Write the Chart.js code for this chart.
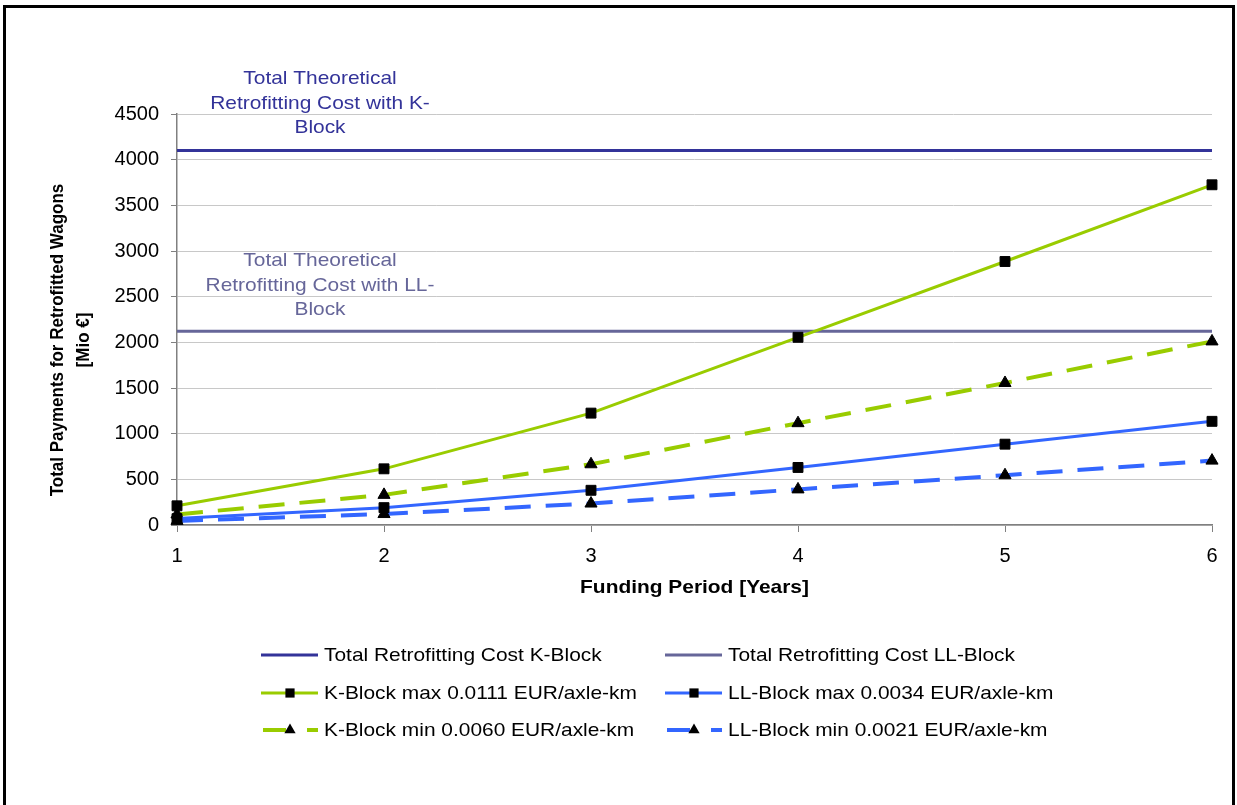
<!DOCTYPE html>
<html>
<head>
<meta charset="utf-8">
<script src="https://cdn.jsdelivr.net/npm/chart.js@4.4.1/dist/chart.umd.min.js"></script>
<style>
    body { margin: 0; background: #fff; }
    #wrap { position: relative; width: 1237px; height: 805px; overflow: hidden; }
    #frame { position: absolute; left: 3px; top: 5px; width: 1226px; height: 830px; border: 3px solid #000; pointer-events: none; }
    canvas { position: absolute; left: 0; top: 0; }
</style>
</head>
<body>
<div id="wrap">
    <canvas id="chart" width="1237" height="805"></canvas>
    <div id="frame"></div>
</div>
<script>
// Data
const years = [1, 2, 3, 4, 5, 6];
const kTotal = [4100, 4100, 4100, 4100, 4100, 4100];
const llTotal = [2120, 2120, 2120, 2120, 2120, 2120];
const kMax = [210, 615, 1225, 2055, 2885, 3725];
const kMin = [115, 330, 665, 1115, 1555, 2010];
const llMax = [70, 190, 380, 630, 885, 1135];
const llMin = [45, 120, 235, 390, 545, 705];
const yTicks = [0, 500, 1000, 1500, 2000, 2500, 3000, 3500, 4000, 4500];

const labels = {
    kTotal: 'Total Retrofitting Cost K-Block',
    llTotal: 'Total Retrofitting Cost LL-Block',
    kMax: 'K-Block max 0.0111 EUR/axle-km',
    llMax: 'LL-Block max 0.0034 EUR/axle-km',
    kMin: 'K-Block min 0.0060 EUR/axle-km',
    llMin: 'LL-Block min 0.0021 EUR/axle-km'
};

const DARK = '#333399';
const GREY = '#666699';
const GREEN = '#99CC00';
const BLUE = '#3366FF';
const DASH = [26, 15];
const FONT = '"Liberation Sans", Arial, sans-serif';
const STRETCH = 1.13; // the reference text is a bit wide

function pts(vals) {
    return years.map((x, i) => ({ x: x, y: vals[i] }));
}

function series(key, vals, color, opts) {
    return Object.assign({
        label: labels[key],
        data: pts(vals),
        borderColor: color,
        backgroundColor: '#000',
        borderWidth: 3,
        pointRadius: 0,
        pointBorderWidth: 1,
        pointBorderColor: '#000',
        pointBackgroundColor: '#000',
        tension: 0,
        fill: false,
        clip: false
    }, opts || {});
}

const datasets = [
    series('kTotal', kTotal, DARK, { order: 1 }),
    series('llTotal', llTotal, GREY, { order: 1 }),
    series('kMax', kMax, GREEN, { pointStyle: 'rect', pointRadius: 7 }),
    series('llMax', llMax, BLUE, { pointStyle: 'rect', pointRadius: 7 }),
    series('kMin', kMin, GREEN, { pointStyle: 'triangle', pointRadius: 7, borderDash: DASH, borderWidth: 4 }),
    series('llMin', llMin, BLUE, { pointStyle: 'triangle', pointRadius: 7, borderDash: DASH, borderWidth: 4 })
];

// Legend layout: two columns, three rows
const legendRows = [['kTotal', 'llTotal'], ['kMax', 'llMax'], ['kMin', 'llMin']];
const legendColX = [261, 665];
const legendRowY = [655, 693, 730];

function wideText(ctx, text, x, y, align) {
    ctx.save();
    ctx.translate(x, y);
    ctx.scale(STRETCH, 1);
    ctx.textAlign = align;
    ctx.fillText(text, 0, 0);
    ctx.restore();
}

const textPlugin = {
    id: 'textPlugin',
    afterDraw(chart) {
        const ctx = chart.ctx;
        const area = chart.chartArea;
        ctx.save();
        ctx.textBaseline = 'middle';

        // annotations above the cost lines
        ctx.font = '18.5px ' + FONT;
        ctx.fillStyle = DARK;
        ['Total Theoretical', 'Retrofitting Cost with K-', 'Block'].forEach((t, i) => wideText(ctx, t, 320, 79 + i * 24.5, 'center'));
        ctx.fillStyle = GREY;
        ['Total Theoretical', 'Retrofitting Cost with LL-', 'Block'].forEach((t, i) => wideText(ctx, t, 320, 261 + i * 24.5, 'center'));

        // axis titles
        ctx.fillStyle = '#000';
        ctx.font = 'bold 18.5px ' + FONT;
        wideText(ctx, 'Funding Period [Years]', (area.left + area.right) / 2, 588, 'center');
        ctx.font = 'bold 17px ' + FONT;
        ctx.save();
        ctx.translate(58, 340);
        ctx.rotate(-Math.PI / 2);
        ctx.scale(1, STRETCH);
        ctx.textAlign = 'center';
        ctx.fillText('Total Payments for Retrofitted Wagons', 0, 0);
        ctx.fillText('[Mio €]', 0, 23);
        ctx.restore();

        // legend
        ctx.font = '18.5px ' + FONT;
        legendRows.forEach((row, r) => {
            row.forEach((key, c) => {
                const ds = datasets.find(d => d.label === labels[key]);
                const x0 = legendColX[c];
                const x1 = x0 + 57;
                const y = legendRowY[r];
                const mid = x0 + 29;
                ctx.strokeStyle = ds.borderColor;
                ctx.lineWidth = ds.borderWidth;
                ctx.setLineDash([]);
                ctx.beginPath();
                if (ds.borderDash) {
                    ctx.moveTo(x0 + 2, y); ctx.lineTo(x0 + 25, y);
                    ctx.moveTo(x0 + 46, y); ctx.lineTo(x1, y);
                } else {
                    ctx.moveTo(x0, y); ctx.lineTo(x1, y);
                }
                ctx.stroke();
                if (ds.pointStyle) {
                    ctx.fillStyle = '#000';
                    ctx.strokeStyle = '#000';
                    ctx.lineWidth = 1;
                    Chart.helpers.drawPoint(ctx, { pointStyle: ds.pointStyle, radius: 6.5, rotation: 0 }, mid, y);
                }
                ctx.fillStyle = '#000';
                wideText(ctx, ds.label, x1 + 6, y + 1, 'left');
            });
        });
        ctx.restore();
    }
};

new Chart(document.getElementById('chart'), {
    type: 'line',
    data: { datasets },
    options: {
        responsive: false,
        animation: false,
        events: [],
        layout: { padding: { left: 0, top: 114, right: 25, bottom: 220 } },
        plugins: { legend: { display: false }, tooltip: { enabled: false } },
        scales: {
            x: {
                type: 'linear',
                min: 1,
                max: 6,
                afterFit: s => { s.height = 60; },
                afterBuildTicks: s => { s.ticks = years.map(v => ({ value: v })); },
                ticks: { color: '#000', font: { size: 20, family: FONT }, padding: 12, maxRotation: 0, callback: v => String(v) },
                grid: { drawOnChartArea: false, drawTicks: true, tickLength: 7, tickColor: '#808080', lineWidth: 1 },
                border: { color: '#808080', width: 1.5 }
            },
            y: {
                min: 0,
                max: 4500,
                afterFit: s => { s.width = 177; },
                afterBuildTicks: s => { s.ticks = yTicks.map(v => ({ value: v })); },
                ticks: { color: '#000', font: { size: 20, family: FONT }, padding: 12, callback: v => String(v) },
                grid: { color: '#c8c8c8', lineWidth: 1, tickLength: 6, tickColor: '#808080' },
                border: { color: '#808080', width: 1.5 }
            }
        }
    },
    plugins: [textPlugin]
});
</script>
</body>
</html>
